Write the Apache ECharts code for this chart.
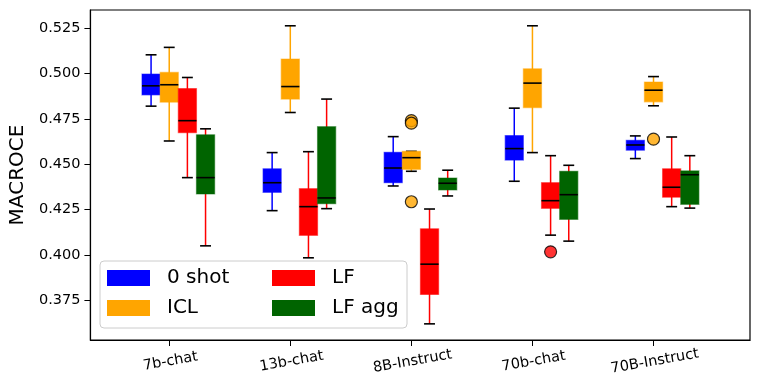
<!DOCTYPE html>
<html>
<head>
<meta charset="utf-8">
<script src="https://cdn.jsdelivr.net/npm/echarts@6/dist/echarts.min.js"></script>
<style>
  html, body { margin: 0; padding: 0; background: #fff; }
  #chart { width: 761px; height: 390px; }
</style>
</head>
<body>
<div id="chart"></div>
<script>
const models = ['7b-chat', '13b-chat', '8B-Instruct', '70b-chat', '70B-Instruct'];
const yTicks = [0.375, 0.4, 0.425, 0.45, 0.475, 0.5, 0.525];

// each row: [lower whisker, q1, median, q3, upper whisker]
const zeroShot = [
    [0.4820, 0.4882, 0.4932, 0.4997, 0.5103],
    [0.4244, 0.4345, 0.4398, 0.4475, 0.4564],
    [0.4380, 0.4398, 0.4479, 0.4566, 0.4652],
    [0.4406, 0.4523, 0.4586, 0.4658, 0.4809],
    [0.4531, 0.4577, 0.4606, 0.4632, 0.4656],
];
const icl = [
    [0.4628, 0.4842, 0.4938, 0.5006, 0.5144],
    [0.4785, 0.4859, 0.4928, 0.5080, 0.5263],
    [0.4461, 0.4472, 0.4536, 0.4571, 0.4571],
    [0.4564, 0.4812, 0.4947, 0.5026, 0.5263],
    [0.4822, 0.4844, 0.4908, 0.4953, 0.4983],
];
const lf = [
    [0.4426, 0.4674, 0.4740, 0.4917, 0.4978],
    [0.3984, 0.4108, 0.4266, 0.4365, 0.4569],
    [0.3620, 0.3782, 0.3949, 0.4144, 0.4253],
    [0.4109, 0.4257, 0.4299, 0.4398, 0.4547],
    [0.4266, 0.4318, 0.4373, 0.4475, 0.4650],
];
const lfAgg = [
    [0.4050, 0.4336, 0.4426, 0.4662, 0.4695],
    [0.4255, 0.4282, 0.4314, 0.4707, 0.4859],
    [0.4325, 0.4358, 0.4395, 0.4424, 0.4467],
    [0.4076, 0.4196, 0.4332, 0.4461, 0.4494],
    [0.4258, 0.4279, 0.4442, 0.4463, 0.4547],
];
// [model index, value]
const iclOutliers = [[2, 0.4740], [2, 0.4726], [2, 0.4293], [4, 0.4638]];
const lfOutliers = [[3, 0.4017]];

const FONT = 'DejaVu Sans';
const BOX_W = 0.15;

const groups = [
    {name: '0 shot', data: zeroShot, color: '#0000ff', edge: 'rgba(0,0,255,0.5)', whisker: '#0000ff', offset: -0.15},
    {name: 'ICL', data: icl, color: '#ffa500', edge: 'rgba(255,165,0,0.5)', whisker: '#ffa500', offset: 0},
    {name: 'LF', data: lf, color: '#ff0000', edge: 'rgba(255,0,0,0.5)', whisker: '#ff0000', offset: 0.15},
    {name: 'LF agg', data: lfAgg, color: '#006400', edge: 'rgba(0,100,0,0.5)', whisker: '#ff0000', offset: 0.3},
];

const boxRenderer = (g) => (params, api) => {
    const x = api.value(0);
    const lo = api.coord([x, api.value(1)]);
    const q1 = api.coord([x, api.value(2)]);
    const med = api.coord([x, api.value(3)]);
    const q3 = api.coord([x, api.value(4)]);
    const hi = api.coord([x, api.value(5)]);
    const half = api.size([BOX_W, 0])[0] / 2;
    const cap = half * 0.6;
    const cx = lo[0];
    const black = {stroke: '#000', lineWidth: 1.6};
    return {
        type: 'group',
        children: [
            {type: 'line', shape: {x1: cx, y1: lo[1], x2: cx, y2: hi[1]}, style: {stroke: g.whisker, lineWidth: 1.5}},
            {type: 'line', shape: {x1: cx - cap, y1: hi[1], x2: cx + cap, y2: hi[1]}, style: black},
            {type: 'line', shape: {x1: cx - cap, y1: lo[1], x2: cx + cap, y2: lo[1]}, style: black},
            {
                type: 'rect',
                shape: {x: cx - half, y: q3[1], width: half * 2, height: q1[1] - q3[1]},
                style: {fill: g.color, stroke: g.edge, lineWidth: 1.2},
            },
            {type: 'line', shape: {x1: cx - half, y1: med[1], x2: cx + half, y2: med[1]}, style: black},
        ],
    };
};

const series = groups.map((g) => ({
    name: g.name,
    type: 'custom',
    itemStyle: {color: g.color},
    renderItem: boxRenderer(g),
    encode: {x: 0, y: [1, 2, 3, 4, 5]},
    data: g.data.map((row, i) => [i + 1 + g.offset, ...row]),
}));

series.push({
    name: 'ICL outliers',
    type: 'scatter',
    symbolSize: 12,
    itemStyle: {color: '#ffa500', borderColor: '#000', borderWidth: 1.2},
    data: iclOutliers.map(([i, v]) => [i + 1 + groups[1].offset, v]),
});
series.push({
    name: 'LF outliers',
    type: 'scatter',
    symbolSize: 12,
    itemStyle: {color: '#ff0000', borderColor: '#000', borderWidth: 1.2},
    data: lfOutliers.map(([i, v]) => [i + 1 + groups[2].offset, v]),
});

const legendBase = {
    orient: 'vertical',
    top: 268,
    padding: 0,
    itemWidth: 43,
    itemHeight: 16,
    itemGap: 10,
    icon: 'rect',
    textStyle: {fontSize: 20, lineHeight: 20, fontFamily: FONT, color: '#000', padding: [0, 0, 0, 12]},
};

const myChart = echarts.init(document.getElementById('chart'));
myChart.setOption({
    animation: false,
    grid: {left: 89, right: 11, top: 10, bottom: 50, show: true, borderColor: '#000', borderWidth: 1.2},
    legend: [
        {...legendBase, left: 107, data: ['0 shot', 'ICL']},
        {...legendBase, left: 272, data: ['LF', 'LF agg']},
    ],
    graphic: [{
        type: 'rect',
        z: 3,
        shape: {x: 100, y: 261, width: 307, height: 67, r: 4},
        style: {fill: 'rgba(255,255,255,0.8)', stroke: '#cccccc', lineWidth: 1},
    }],
    xAxis: {
        type: 'value',
        min: 0.349,
        max: 5.797,
        splitLine: {show: false},
        axisLine: {lineStyle: {color: '#000', width: 1.2}},
        axisTick: {customValues: [1, 2, 3, 4, 5], length: 6, lineStyle: {color: '#000'}},
        axisLabel: {
            customValues: [1, 2, 3, 4, 5],
            formatter: (v) => models[Math.round(v) - 1],
            rotate: 10,
            align: 'center',
            verticalAlign: 'top',
            margin: 14,
            fontSize: 14.5,
            fontFamily: FONT,
            color: '#000',
        },
    },
    yAxis: {
        type: 'value',
        min: 0.3531,
        max: 0.535,
        name: 'MACROCE',
        nameLocation: 'center',
        nameGap: 60,
        nameTextStyle: {fontSize: 20, fontFamily: FONT, color: '#000'},
        splitLine: {show: false},
        axisLine: {show: true, lineStyle: {color: '#000', width: 1.2}},
        axisTick: {customValues: yTicks, length: 6, lineStyle: {color: '#000'}},
        axisLabel: {
            customValues: yTicks,
            formatter: (v) => v.toFixed(3),
            margin: 10,
            fontSize: 14.5,
            fontFamily: FONT,
            color: '#000',
        },
    },
    series,
});
</script>
</body>
</html>
